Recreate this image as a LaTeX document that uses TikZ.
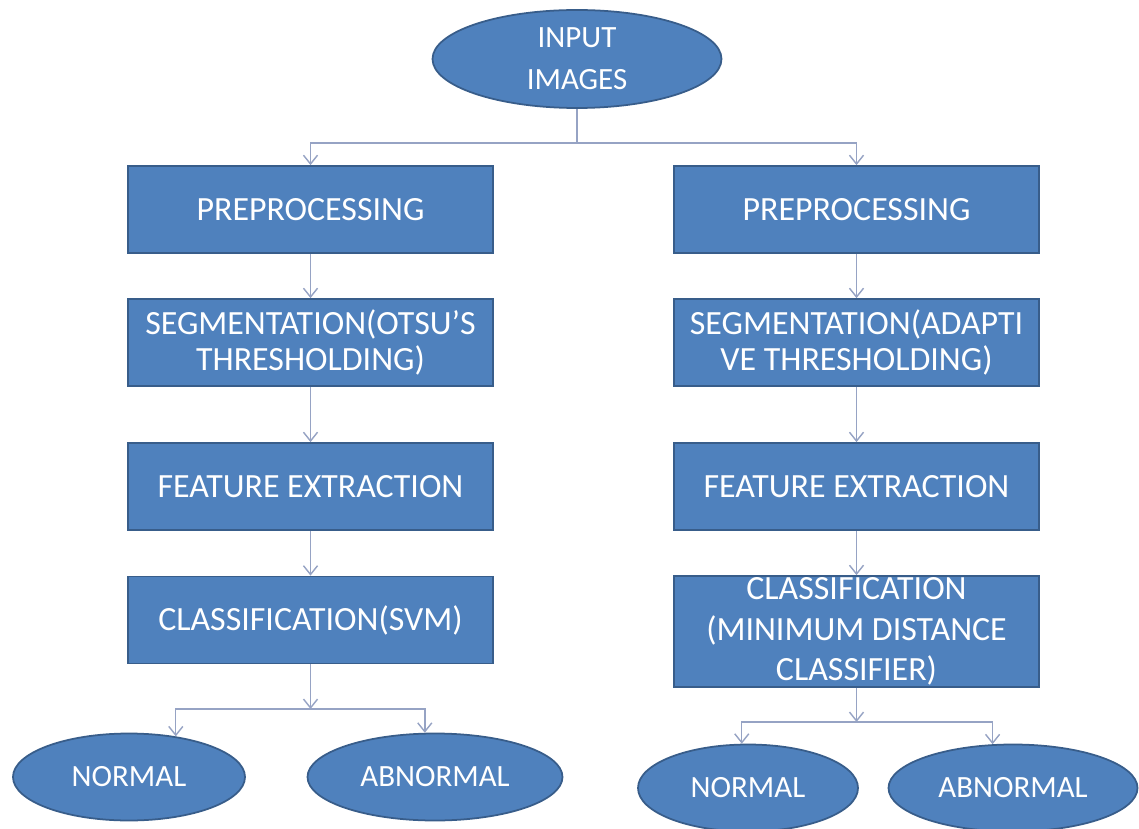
\documentclass[tikz,border=0pt]{standalone}
\usepackage{fontspec}
\setmainfont{Carlito}
\usetikzlibrary{shapes.geometric,arrows.meta}
\definecolor{boxblue}{RGB}{79,129,189}
\definecolor{boxedge}{RGB}{56,93,138}
\definecolor{linegray}{RGB}{150,163,196}
\tikzset{
  blk/.style={rectangle, fill=boxblue, draw=boxedge, line width=1pt, text=white,
    minimum width=7.3cm, minimum height=1.74cm, align=center, inner sep=0pt,
    font=\fontsize{19.3}{20}\selectfont},
  oval/.style={ellipse, fill=boxblue, draw=boxedge, line width=1pt, text=white,
    minimum height=1.74cm, align=center, inner sep=0pt,
    font=\fontsize{17.6}{24}\selectfont},
  flow/.style={draw=linegray, line width=0.8pt, -{Straight Barb[length=5pt,width=8pt]}}
}

\begin{document}
\begin{tikzpicture}
         \fill[white] (0,0) rectangle (22.78,16.56);
         \useasboundingbox (0,0) rectangle (22.78,16.56);
         \node[oval, minimum width=5.78cm, minimum height=1.96cm] (IN) at (11.54,15.38) {INPUT\\IMAGES};
         \coordinate (TS) at (11.54,13.70);
         \node[blk] (L1) at (6.21,12.37) {PREPROCESSING};
         \node[blk] (L2) at (6.21,9.71) {SEGMENTATION(OTSU'S\\THRESHOLDING)};
         \node[blk] (L3) at (6.21,6.83) {FEATURE EXTRACTION};
         \node[blk] (L4) at (6.21,4.16) {CLASSIFICATION(SVM)};
         \node[blk] (R1) at (17.13,12.37) {PREPROCESSING};
         \node[blk] (R2) at (17.13,9.71) {SEGMENTATION(ADAPTI\\VE THRESHOLDING)};
         \node[blk] (R3) at (17.13,6.83) {FEATURE EXTRACTION};
         \node[blk, minimum height=2.22cm, font=\fontsize{19.3}{23.2}\selectfont] (R4) at (17.13,3.93) {CLASSIFICATION\\(MINIMUM DISTANCE\\CLASSIFIER)};
         \coordinate (LS) at (6.21,2.38);
         \coordinate (RS) at (17.13,2.12);
         \node[oval, minimum width=4.64cm] (LN) at (2.58,1.02) {NORMAL};
         \node[oval, minimum width=5.10cm] (LA) at (8.70,1.02) {ABNORMAL};
         \node[oval, minimum width=4.40cm] (RN) at (14.96,0.80) {NORMAL};
         \node[oval, minimum width=4.98cm] (RA) at (20.26,0.80) {ABNORMAL};
         \draw[flow, -] (IN) -- (TS);
         \draw[flow] (TS) -| (L1);
         \draw[flow] (TS) -| (R1);
         \draw[flow] (L1) -- (L2);
         \draw[flow] (L2) -- (L3);
         \draw[flow] (L3) -- (L4);
         \draw[flow] (R1) -- (R2);
         \draw[flow] (R2) -- (R3);
         \draw[flow] (R3) -- (R4);
         \draw[flow] (L4) -- (LS);
         \draw[flow] (LS) -| (LN.41);
         \draw[flow] (LS) -| (LA.103);
         \draw[flow] (R4) -- (RS);
         \draw[flow] (RS) -| (RN.98);
         \draw[flow] (RS) -| (RA.115);
\end{tikzpicture}
\end{document}
